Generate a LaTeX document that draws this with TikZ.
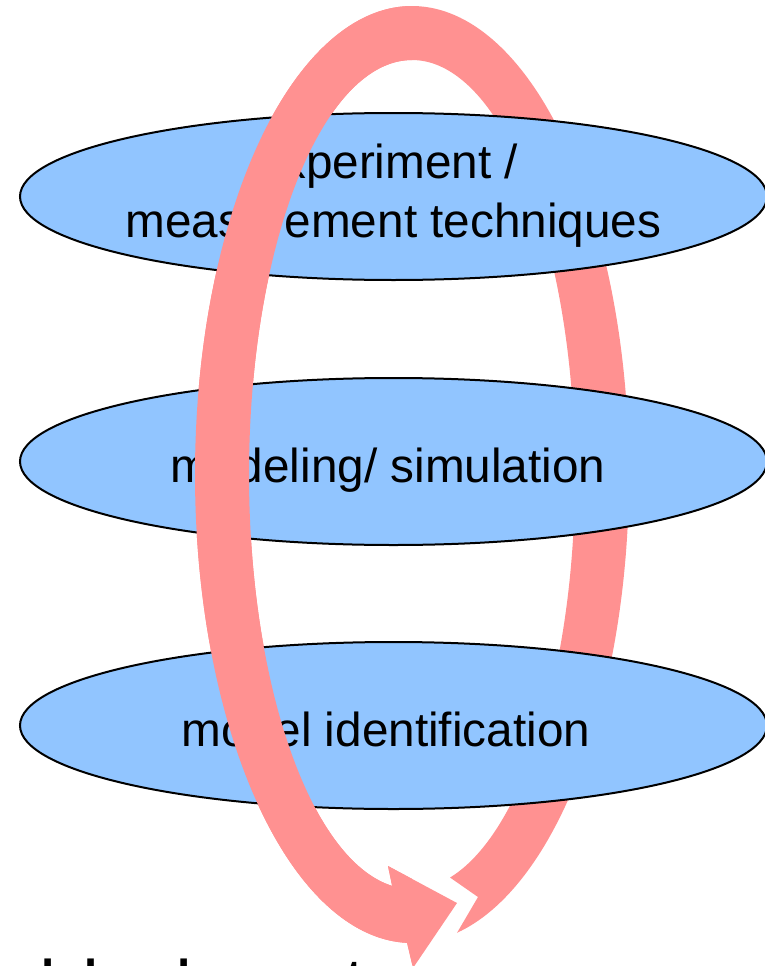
\documentclass[tikz,border=0pt]{standalone}
\usepackage{fontspec}
\setmainfont{Liberation Sans}
\usetikzlibrary{shapes.geometric}
\definecolor{ringpink}{RGB}{255,145,145}
\definecolor{discblue}{RGB}{145,197,255}
\newcommand{\ringshape}{%
  \fill[ringpink] (478,897) -- (457.1,932.7)
    -- plot[domain=78:-268.7, samples=220, smooth] ({412+217*cos(\x)},{474.5+468.5*sin(\x)})
    -- (413,968) -- (457,903) -- (388,866)
    -- plot[domain=-263:76.5, samples=220, smooth] ({412+163*cos(\x)},{474.5+414.5*sin(\x)})
    -- cycle;}
\begin{document}
\begin{tikzpicture}[x=1pt,y=-1pt,
  disc/.style={ellipse, draw=black, line width=2pt, fill=discblue,
    minimum width=747pt, minimum height=167pt, inner sep=0pt},
  lbl/.style={anchor=base, font=\fontsize{47.7}{57}\selectfont, inner sep=0pt},
  foot/.style={anchor=base west, font=\fontsize{47.7}{57}\selectfont\bfseries, inner sep=0pt}]
\useasboundingbox (0,0) rectangle (765,966);
% ring: back part (whole)
\ringshape
% discs
\node[disc] (e1) at (393.5,196.5) {};
\node[disc] (e2) at (393.5,461.5) {};
\node[disc] (e3) at (393.5,725.5) {};
% labels
\node[lbl] (t1a) at (393.5,178) {experiment /\hspace*{0.278em}};
\node[lbl] (t1b) at (393.5,237) {measurement techniques};
\node[lbl] (t2) at (388,482) {modeling/ simulation};
\node[lbl] (t3) at (386,746.5) {model identification};
% ring: front part (left half)
\begin{scope}
  \clip (-10,-10) rectangle (412,1000);
  \ringshape
\end{scope}
% caption cut off at the bottom
\node[foot] (cap) at (41.7,993) {\llap{Virtua}l development};
\end{tikzpicture}
\end{document}
